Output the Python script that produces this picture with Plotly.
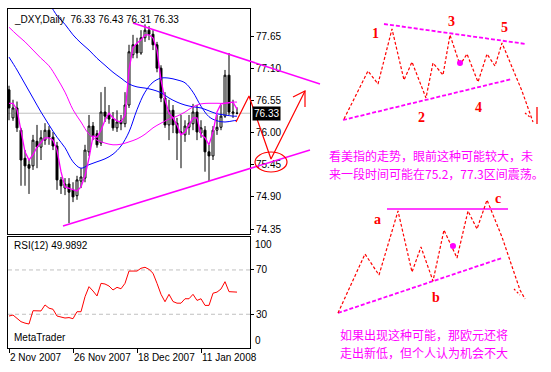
import plotly.graph_objects as go

W, H = 551, 372

# ---------------- data ----------------
tick_idx = [0, 16, 32, 48]
tick_text = ["2 Nov 2007", "26 Nov 2007", "18 Dec 2007", "11 Jan 2008"]

opens = [76.73, 76.25, 76.42, 76.04, 75.56, 75.45, 75.43, 75.85, 75.75, 75.87,
         76.04, 75.92, 75.77, 75.19, 75.05, 75.12, 75.02, 74.92, 75.17, 75.22,
         75.67, 76.11, 75.98, 75.82, 76.35, 76.30, 76.23, 76.08, 76.20, 76.15,
         76.47, 77.33, 77.50, 77.36, 77.62, 77.75, 77.68, 77.50, 77.10, 76.59,
         76.13, 76.38, 76.16, 75.99, 75.96, 76.09, 76.15, 76.35, 75.99, 76.04,
         75.67, 75.60, 76.04, 76.09, 76.28, 76.98, 76.33, 76.33]
highs = [76.80, 76.56, 76.53, 76.08, 75.70, 75.53, 75.96, 76.13, 76.04, 76.16,
         76.11, 76.01, 75.84, 75.24, 75.22, 75.22, 75.15, 75.26, 75.39, 75.79,
         76.30, 76.18, 76.04, 76.69, 76.78, 76.47, 76.35, 76.38, 76.30, 76.69,
         77.50, 77.67, 77.62, 77.75, 77.85, 77.82, 77.75, 77.55, 77.15, 76.69,
         76.56, 76.47, 76.25, 76.30, 76.21, 76.30, 76.49, 76.47, 76.21, 76.11,
         75.79, 76.11, 76.30, 76.47, 77.07, 77.36, 76.56, 76.43]
lows = [76.21, 76.20, 76.01, 75.09, 75.09, 74.95, 75.36, 75.39, 75.53, 75.79,
        75.79, 75.70, 75.02, 74.95, 74.93, 74.45, 74.81, 74.85, 75.05, 75.15,
        75.60, 75.87, 75.74, 75.77, 76.18, 76.15, 76.03, 76.01, 76.04, 76.09,
        76.42, 77.27, 77.27, 77.33, 77.55, 77.58, 77.41, 77.03, 76.52, 76.08,
        75.87, 75.99, 75.53, 75.39, 75.84, 75.96, 76.04, 75.87, 75.91, 75.33,
        75.17, 75.53, 75.96, 76.04, 76.25, 76.30, 76.25, 76.31]
closes = [76.42, 76.42, 76.08, 75.53, 75.43, 75.39, 75.87, 75.75, 75.91, 76.04,
          75.92, 75.77, 75.19, 75.09, 75.12, 74.98, 74.90, 75.19, 75.24, 75.70,
          76.11, 75.94, 75.79, 76.35, 76.28, 76.23, 76.08, 76.18, 76.15, 76.47,
          77.38, 77.50, 77.36, 77.62, 77.75, 77.68, 77.50, 77.10, 76.59, 76.13,
          76.38, 76.13, 75.99, 76.01, 76.11, 76.16, 76.35, 76.01, 76.08, 75.67,
          75.60, 76.04, 76.09, 76.28, 76.98, 76.35, 76.35, 76.33]

rsi12 = [28.4, 29.3, 26.3, 23.3, 22.0, 21.2, 33.2, 33.2, 33.0, 38.4,
         35.5, 34.5, 28.4, 27.5, 26.6, 27.0, 26.0, 32.3, 32.3, 45.8,
         54.9, 51.0, 46.5, 57.9, 57.3, 55.5, 51.9, 54.3, 53.0, 57.9,
         69.0, 69.0, 69.0, 71.5, 72.4, 70.5, 67.0, 57.9, 48.0, 41.3,
         48.0, 41.5, 40.0, 40.0, 44.0, 44.0, 48.0, 42.5, 44.0, 38.0,
         38.0, 49.0, 50.0, 52.8, 59.4, 50.4, 50.4, 49.9892]

ma_fast = [76.50, 76.50, 76.39, 76.04, 75.67, 75.53, 75.62, 75.75, 75.84, 75.91,
           75.91, 75.87, 75.70, 75.33, 75.07, 75.05, 75.02, 75.00, 75.07, 75.26,
           75.56, 75.94, 75.92, 76.04, 76.21, 76.33, 76.25, 76.20, 76.18, 76.30,
           77.07, 77.45, 77.53, 77.58, 77.67, 77.67, 77.62, 77.41, 76.90, 76.56,
           76.33, 76.25, 76.13, 75.96, 76.01, 76.13, 76.25, 76.25, 75.96, 75.91,
           75.79, 76.01, 76.35, 76.49, 76.50, 76.52, 76.52, 76.40]

ma_mid_idx = list(range(0, 57, 2)) + [57]
ma_magenta_slow = [77.80, 77.67, 77.55, 77.41, 77.27, 77.14, 76.93, 76.69, 76.39, 76.18,
                   75.97, 75.87, 75.82, 75.79, 75.80, 75.84, 75.89, 75.97, 76.08, 76.16,
                   76.23, 76.28, 76.35, 76.44, 76.49, 76.50, 76.50, 76.50, 76.52, 76.52]
ma_blue_mid = [77.29, 77.07, 76.83, 76.59, 76.35, 76.13, 75.92, 75.74, 75.50, 75.39,
               75.45, 75.50, 75.55, 75.63, 75.77, 76.01, 76.39, 76.69, 76.86, 76.93,
               76.93, 76.90, 76.85, 76.69, 76.45, 76.27, 76.20, 76.18, 76.20, 76.21]

ma_long_idx = list(range(10, 57, 2)) + [57]
ma_blue_long = [78.22, 78.00, 77.85, 77.67, 77.53, 77.41, 77.27, 77.15, 77.03, 76.93,
                76.83, 76.78, 76.76, 76.73, 76.68, 76.59, 76.52, 76.47, 76.44, 76.42,
                76.37, 76.32, 76.30, 76.28, 76.28]

price_ticks = [77.65, 77.10, 76.55, 76.00, 75.45, 74.90, 74.35]
rsi_levels = [30, 70]

# hand-drawn sketch (page pixel coordinates)
trend_up_x, trend_up_y = [133, 320], [23, 84]
trend_lo_x, trend_lo_y = [63, 310], [226, 150]
red_path_x, red_path_y = [236, 249, 271, 305], [122, 96, 159, 91]
arrow_x, arrow_y = [293, 305, 305], [97, 91, 107]

d1_top_x, d1_top_y = [384, 526], [24, 44]
d1_bot_x, d1_bot_y = [343, 512], [120, 79]
d1_wave_x = [344, 368, 378, 392, 404, 412, 426, 433, 443, 450, 460, 467, 478, 487, 495, 502, 512, 522, 533]
d1_wave_y = [119, 71, 84, 29, 80, 62, 98, 63, 75, 35, 65, 54, 82, 54, 66, 43, 67, 91, 122]
d1_tail_x, d1_tail_y = [525, 531], [113, 118]
d1_bar_x, d1_bar_y = [537, 537], [107, 124]
d1_dot = (460, 63)
d1_labels = [("1", 375, 33), ("2", 421, 117), ("3", 451, 21), ("4", 478, 107), ("5", 504, 27)]

d2_top_x, d2_top_y = [387, 508], [209, 209]
d2_bot_x, d2_bot_y = [338, 502], [313, 258]
d2_wave_x = [338, 365, 379, 398, 412, 421, 433, 444, 457, 468, 477, 487, 502, 512, 520, 525]
d2_wave_y = [313, 254, 275, 211, 272, 247, 281, 230, 258, 211, 229, 200, 237, 267, 290, 299]
d2_tail_x, d2_tail_y = [514, 520], [289, 295]
d2_dot = (453, 246)
d2_labels = [("a", 377, 219), ("b", 436, 297), ("c", 498, 198)]

note1 = ["看美指的走势，眼前这种可能较大，未", "来一段时间可能在75.2，77.3区间震荡。"]
note1_pos = [(327, 155), (327, 173)]
note2 = ["如果出现这种可能，那欧元还将", "走出新低，但个人认为机会不大"]
note2_pos = [(338, 334), (338, 352)]

# ---------------- figure ----------------
idx = list(range(len(closes)))
MAG, BLUE, RED = "#ff00ff", "#0000ff", "#ff0000"
FONT = "Liberation Sans"

fig = go.Figure()

fig.add_trace(go.Scatter(x=ma_long_idx, y=ma_blue_long, mode="lines",
                         line=dict(color=BLUE, width=1, shape="spline"),
                         xaxis="x", yaxis="y", hoverinfo="skip", showlegend=False))
fig.add_trace(go.Scatter(x=ma_mid_idx, y=ma_blue_mid, mode="lines",
                         line=dict(color=BLUE, width=1, shape="spline"),
                         xaxis="x", yaxis="y", hoverinfo="skip", showlegend=False))
fig.add_trace(go.Scatter(x=ma_mid_idx, y=ma_magenta_slow, mode="lines",
                         line=dict(color=MAG, width=1, shape="spline"),
                         xaxis="x", yaxis="y", hoverinfo="skip", showlegend=False))
fig.add_trace(go.Candlestick(x=idx, open=opens, high=highs, low=lows, close=closes,
                             increasing=dict(line=dict(color="black", width=1), fillcolor="white"),
                             decreasing=dict(line=dict(color="black", width=1), fillcolor="black"),
                             whiskerwidth=0, xaxis="x", yaxis="y",
                             hoverinfo="skip", showlegend=False))
fig.add_trace(go.Scatter(x=idx, y=ma_fast, mode="lines",
                         line=dict(color=MAG, width=1.3),
                         xaxis="x", yaxis="y", hoverinfo="skip", showlegend=False))

fig.add_trace(go.Scatter(x=idx, y=rsi12, mode="lines", line=dict(color=RED, width=1),
                         xaxis="x2", yaxis="y2", hoverinfo="skip", showlegend=False))


def sk(xs, ys, color, width=1.0, dash=None):
    fig.add_trace(go.Scatter(x=xs, y=ys, mode="lines",
                             line=dict(color=color, width=width, dash=dash),
                             xaxis="x3", yaxis="y3", hoverinfo="skip", showlegend=False))


sk(trend_up_x, trend_up_y, MAG, 1.5)
sk(trend_lo_x, trend_lo_y, MAG, 1.5)
sk(red_path_x, red_path_y, RED, 1.2)
sk(arrow_x, arrow_y, RED, 1.2)

sk(d1_top_x, d1_top_y, MAG, 1.8, "4px,2px")
sk(d1_bot_x, d1_bot_y, MAG, 1.8, "4px,2px")
sk(d1_wave_x, d1_wave_y, RED, 1.2, "3px,2px")
sk(d1_tail_x, d1_tail_y, RED, 1.2, "2px,2px")
sk(d1_bar_x, d1_bar_y, RED, 1.3)

sk(d2_top_x, d2_top_y, MAG, 1.3)
sk(d2_bot_x, d2_bot_y, MAG, 1.8, "4px,2px")
sk(d2_wave_x, d2_wave_y, RED, 1.2, "3px,2px")
sk(d2_tail_x, d2_tail_y, RED, 1.2, "2px,2px")

fig.add_trace(go.Scatter(x=[d1_dot[0], d2_dot[0]], y=[d1_dot[1], d2_dot[1]], mode="markers",
                         marker=dict(color=MAG, size=6), xaxis="x3", yaxis="y3",
                         hoverinfo="skip", showlegend=False))

annotations = []
for t, x, y in d1_labels + d2_labels:
    annotations.append(dict(text=f"<b>{t}</b>", x=x, y=y, xref="x3", yref="y3",
                            showarrow=False, font=dict(family="Liberation Serif", size=14, color=RED)))
for lines, pos in ((note1, note1_pos), (note2, note2_pos)):
    for t, (x, y) in zip(lines, pos):
        annotations.append(dict(text=t, x=x, y=y, xref="x3", yref="y3", xanchor="left",
                                showarrow=False,
                                font=dict(family="Noto Sans CJK SC", size=12, color=MAG)))

header = f"_DXY,Daily  {opens[-1]:.2f} {highs[-1]:.2f} {lows[-1]:.2f} {closes[-1]:.2f}"
annotations.append(dict(text=header, x=0.015, y=0.985, xref="x domain", yref="y domain",
                        xanchor="left", yanchor="top", showarrow=False,
                        font=dict(family=FONT, size=10, color="black")))
annotations.append(dict(text=f"RSI(12) {rsi12[-1]:.4f}", x=0.015, y=0.985, xref="x2 domain",
                        yref="y2 domain", xanchor="left", yanchor="top", showarrow=False,
                        font=dict(family=FONT, size=10, color="black")))
annotations.append(dict(text="MetaTrader", x=0.015, y=0.02, xref="x2 domain",
                        yref="y2 domain", xanchor="left", yanchor="bottom", showarrow=False,
                        font=dict(family=FONT, size=10, color="black")))
annotations.append(dict(text=f"{closes[-1]:.2f}", x=1, y=closes[-1], xref="x domain", yref="y",
                        xanchor="left", yanchor="middle", xshift=2, showarrow=False,
                        bgcolor="black", borderpad=1,
                        font=dict(family=FONT, size=10, color="white")))
annotations.append(dict(text="100", x=1, y=1, xref="x2 domain", yref="y2 domain",
                        xanchor="left", yanchor="top", xshift=3, showarrow=False,
                        font=dict(family=FONT, size=10, color="black")))
annotations.append(dict(text="0", x=1, y=0, xref="x2 domain", yref="y2 domain",
                        xanchor="left", yanchor="bottom", xshift=3, showarrow=False,
                        font=dict(family=FONT, size=10, color="black")))

shapes = [
    dict(type="line", xref="x domain", yref="y", x0=0, x1=1, y0=closes[-1], y1=closes[-1],
         line=dict(color="#c0c0c0", width=1), layer="below"),
]
for lv in rsi_levels:
    shapes.append(dict(type="line", xref="x2 domain", yref="y2", x0=0, x1=1, y0=lv, y1=lv,
                       line=dict(color="#c0c0c0", width=1, dash="4px,3px"), layer="below"))
shapes.append(dict(type="circle", xref="x3", yref="y3", x0=255, x1=287, y0=152, y1=172,
                   line=dict(color=RED, width=1.2)))

xdom = [8 / W, 250 / W]
axis_common = dict(showline=True, mirror=True, linecolor="black", linewidth=1,
                   showgrid=False, zeroline=False, automargin=False,
                   tickfont=dict(family=FONT, size=10, color="black"))

fig.update_layout(
    width=W, height=H, margin=dict(l=0, r=0, t=0, b=0, pad=0, autoexpand=False),
    paper_bgcolor="white", plot_bgcolor="rgba(0,0,0,0)",
    showlegend=False,
    xaxis=dict(domain=xdom, range=[-0.25, 60.25], anchor="y", showticklabels=False, ticks="",
               rangeslider=dict(visible=False), **axis_common),
    yaxis=dict(domain=[1 - 234 / H, 1 - 9 / H], range=[74.265, 78.112], anchor="x", side="right",
               tickvals=price_ticks, ticktext=[f"{v:.2f}" for v in price_ticks],
               ticks="outside", ticklen=3, tickcolor="black", **axis_common),
    xaxis2=dict(domain=xdom, range=[-0.25, 60.25], anchor="y2", tickvals=tick_idx,
                ticktext=tick_text, ticks="outside", ticklen=4, tickcolor="black",
                tickangle=0, ticklabelposition="outside right", **axis_common),
    yaxis2=dict(domain=[1 - 347.5 / H, 1 - 236.7 / H], range=[0, 100], anchor="x2", side="right",
                tickvals=rsi_levels, ticks="outside", ticklen=3, tickcolor="black", **axis_common),
    xaxis3=dict(domain=[0, 1], range=[0, W], anchor="y3", visible=False, fixedrange=True,
                automargin=False),
    yaxis3=dict(domain=[0, 1], range=[H, 0], anchor="x3", visible=False, fixedrange=True,
                automargin=False),
    annotations=annotations, shapes=shapes,
)

fig.write_html("out.html", config={"displayModeBar": False},
               post_script="document.body.style.margin='0';document.body.style.overflow='hidden';")
